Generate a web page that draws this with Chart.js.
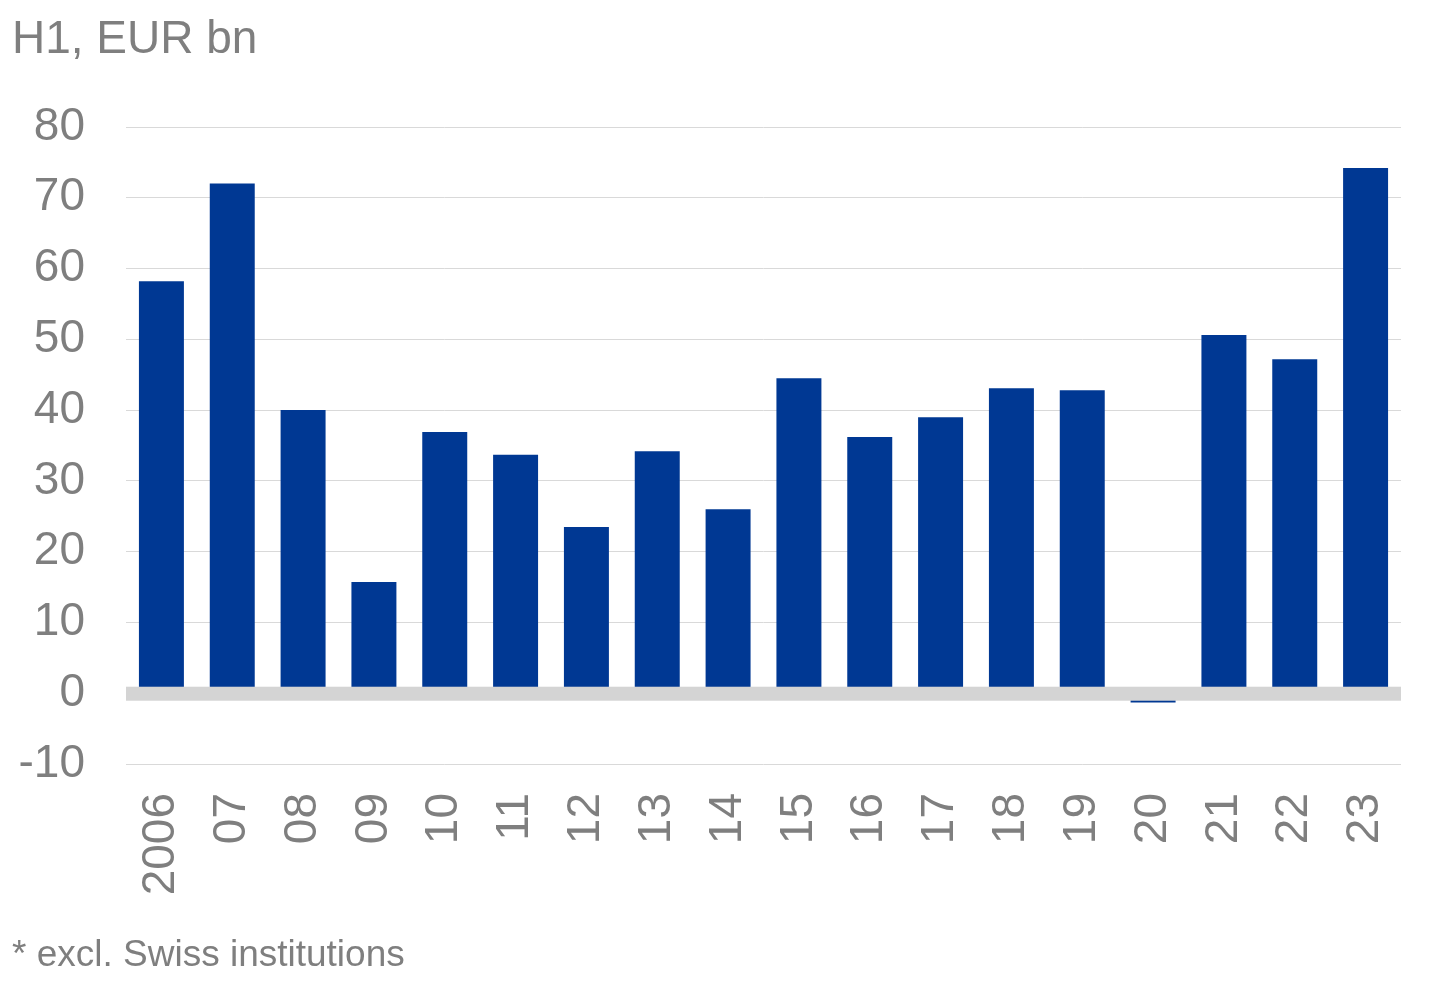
<!DOCTYPE html>
<html lang="en">
<head>
<meta charset="UTF-8">
<title>H1, EUR bn</title>
<script src="https://cdn.jsdelivr.net/npm/chart.js@4.4.0/dist/chart.umd.min.js"></script>
<style>
*{box-sizing:border-box;margin:0;padding:0}
html,body{width:1433px;height:989px;background:#fff;overflow:hidden}
body{position:relative;font-family:"Liberation Sans",Arial,sans-serif;color:#7f7f7f}
#wrap{position:absolute;left:0;top:0;width:1433px;height:989px}
.title{position:absolute;left:12px;top:14px;font-size:46px;line-height:1;white-space:nowrap}
.note{position:absolute;left:12px;top:935px;font-size:37px;line-height:1;white-space:nowrap}
</style>
</head>
<body>
<div id="wrap"><canvas id="c"></canvas></div>
<div class="title">H1, EUR bn</div>
<div class="note">* excl. Swiss institutions</div>
<script>
const years = ["2006", "07", "08", "09", "10", "11", "12", "13", "14", "15", "16", "17", "18", "19", "20", "21", "22", "23"];
const values = [58.2, 72.0, 40.0, 15.7, 36.9, 33.7, 23.5, 34.2, 26.0, 44.5, 36.2, 39.0, 43.1, 42.8, -1.3, 50.6, 47.2, 74.2];
const yMin = -10, yMax = 80, yStep = 10;

const gray = "#7f7f7f", gridColor = "#d9d9d9";

// grey band on the zero line, drawn over the bars
const zeroBand = {
  id: "zeroBand",
  afterDatasetsDraw(chart) {
    const { ctx, chartArea, scales } = chart;
    const y0 = scales.y.getPixelForValue(0);
    ctx.save();
    ctx.fillStyle = "#d4d4d4";
    ctx.fillRect(chartArea.left, y0 - 6.5, chartArea.right - chartArea.left, 14);
    ctx.restore();
  }
};

new Chart(document.getElementById("c"), {
  type: "bar",
  data: {
    labels: years,
    datasets: [{ data: values, backgroundColor: "#003893", barPercentage: 0.635, categoryPercentage: 1 }]
  },
  options: {
    responsive: true, maintainAspectRatio: false, animation: false,
    layout: { padding: { top: 127, right: 32, left: 0, bottom: 0 } },
    plugins: { legend: { display: false }, tooltip: { enabled: false } },
    scales: {
      x: {
        grid: { display: false, drawTicks: false },
        border: { display: false },
        ticks: { color: gray, font: { family: "Liberation Sans", size: 46 }, maxRotation: 90, minRotation: 90, autoSkip: false, padding: 29 },
        afterFit: s => { s.height = 225; s.paddingLeft = 0; s.paddingRight = 0; }
      },
      y: {
        min: yMin, max: yMax,
        grid: { color: gridColor, lineWidth: 1, drawTicks: false },
        border: { display: false },
        ticks: { stepSize: yStep, color: gray, font: { family: "Liberation Sans", size: 46 }, padding: 41 },
        afterFit: s => { s.width = 126; }
      }
    }
  },
  plugins: [zeroBand]
});
</script>
</body>
</html>
